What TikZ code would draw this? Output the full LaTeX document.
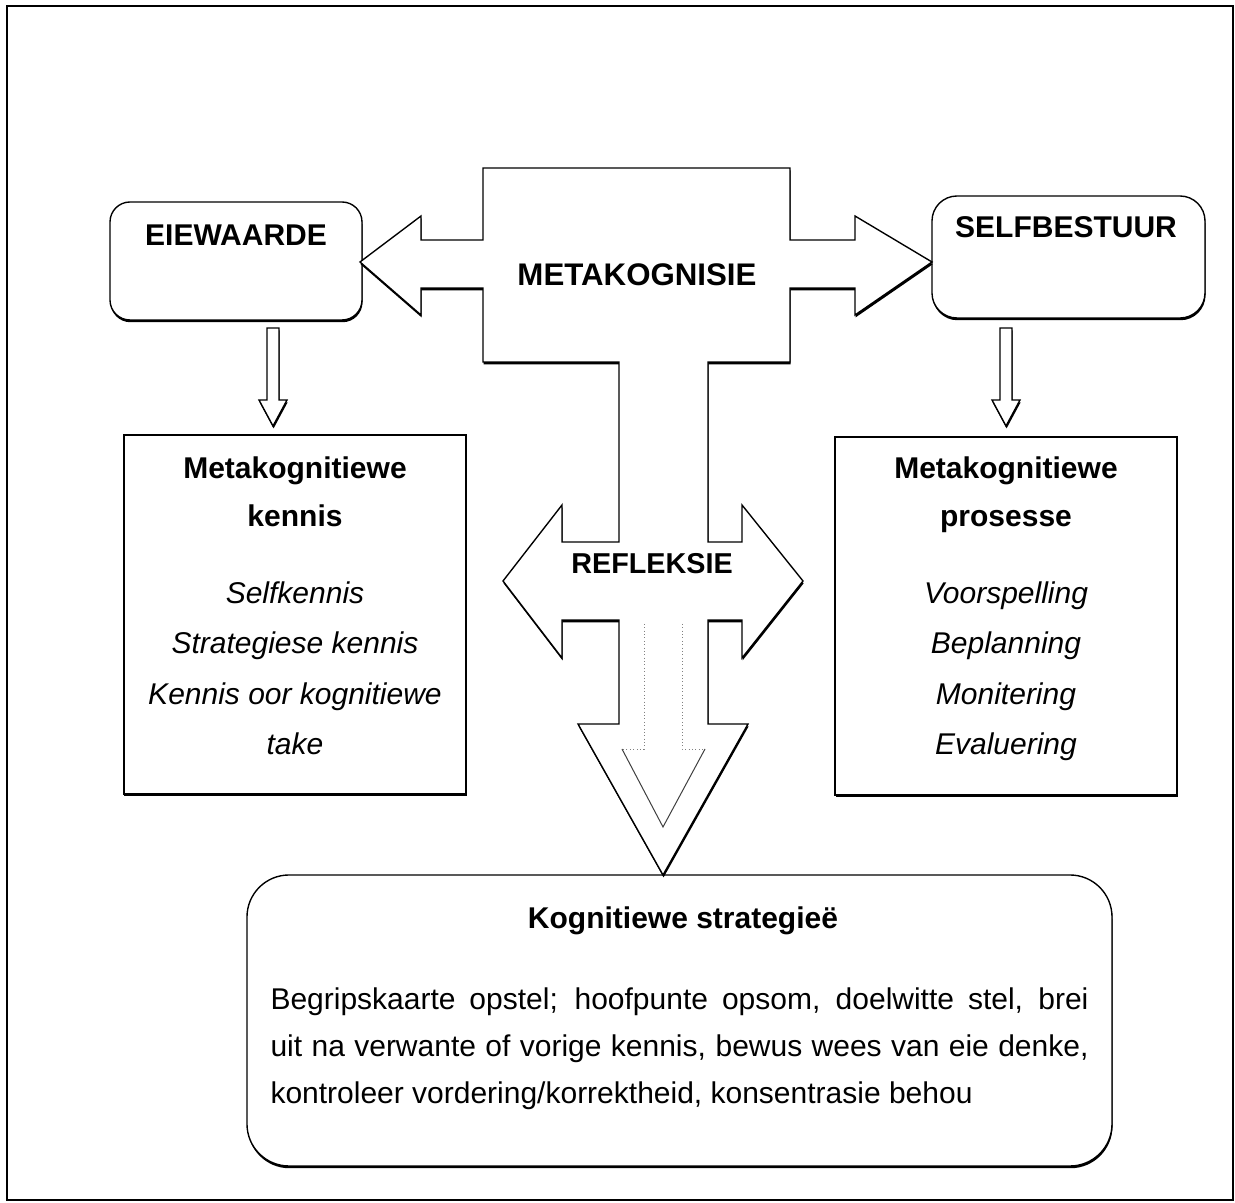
\documentclass[tikz,border=0pt]{standalone}
\usepackage{fontspec}
\setmainfont{Liberation Sans}
\usetikzlibrary{shadows}

% Outline of the joined block arrows: METAKOGNISIE (left/right), REFLEKSIE and the arrow down
\newcommand{\blockarrows}[1]{%
  \path[#1] (483,168) -- (790,168) -- (790,240) -- (855,240) -- (855,216) -- (932,262)
    -- (855,315) -- (855,288) -- (790,288) -- (790,362) -- (708,362) -- (708,542)
    -- (742,542) -- (742,505) -- (803,581) -- (742,658) -- (742,620) -- (708,620)
    -- (708,724) -- (748,724) -- (663,875) -- (578,724) -- (619,724) -- (619,620)
    -- (562,620) -- (562,658) -- (503,581) -- (562,505) -- (562,542) -- (619,542)
    -- (619,362) -- (483,362) -- (483,288) -- (421,288) -- (421,315) -- (360,262)
    -- (421,216) -- (421,240) -- (483,240) -- cycle;}

% Small hollow arrow pointing down, centred on x = #2
\newcommand{\smalldown}[2]{%
  \path[#1] (#2-6,328) -- (#2+6,328) -- (#2+6,400) -- (#2+14,400) -- (#2,426)
    -- (#2-14,400) -- (#2-6,400) -- cycle;}

\begin{document}
\begin{tikzpicture}[x=0.4pt, y=-0.4pt,
  shadowed/.style={drop shadow={shadow xshift=0.2pt, shadow yshift=-0.9pt, opacity=1, fill=black}},
  roundbox/.style={draw=black, line width=0.55pt, fill=white, rounded corners=8pt,
    inner sep=0pt, shadowed},
  squarebox/.style={draw=black, line width=0.55pt, fill=white, inner sep=0pt, shadowed},
  bigtxt/.style={font=\bfseries\fontsize{12}{14}\selectfont, inner sep=0pt, anchor=base},
  headtxt/.style={font=\bfseries\fontsize{12}{14}\selectfont, inner sep=0pt, anchor=base},
  itemtxt/.style={font=\itshape\fontsize{12}{14}\selectfont, inner sep=0pt, anchor=base},
  bodytxt/.style={font=\fontsize{12}{14}\selectfont, inner sep=0pt, anchor=base west},
  outline/.style={fill=white, draw=black, line width=0.55pt, line join=miter},
  shadowfill/.style={fill=black, shift={(0.6,2.4)}},
]
\useasboundingbox (0,0) rectangle (1235,1203);
\fill[white] (0,0) rectangle (1235,1203);

% frame
\draw[line width=1pt] (7,6) rectangle (1233,1200);

% boxes
\node[roundbox, minimum width=100.8pt, minimum height=47.2pt] (eie) at (236,261) {};
\node[roundbox, minimum width=109.2pt, minimum height=48.8pt, rounded corners=10pt] (self) at (1068.5,257) {};
\node[squarebox, minimum width=136.8pt, minimum height=143.6pt] (kennis) at (295,614.5) {};
\node[squarebox, minimum width=136.8pt, minimum height=143.2pt] (prosesse) at (1006,616) {};
\node[roundbox, minimum width=346pt, minimum height=116.4pt, rounded corners=16.8pt] (kog) at (679.5,1020.5) {};

% small arrows from the top boxes to the boxes below
\smalldown{shadowfill}{273}
\smalldown{outline}{273}
\smalldown{shadowfill}{1006}
\smalldown{outline}{1006}

% joined block arrows
\blockarrows{shadowfill}
\blockarrows{outline}

% faint inner arrow inside the arrow down
\draw[gray, line width=0.35pt, densely dotted] (644,624) -- (644,749) -- (622,749);
\draw[gray, line width=0.35pt, densely dotted] (682,624) -- (682,749) -- (705,749);
\draw[black!75, line width=0.4pt] (622,749) -- (663,827) -- (705,749);

% labels
\node[bigtxt] (eiet) at (236,246) {EIEWAARDE};
\node[bigtxt] (selft) at (1066,238) {SELFBESTUUR};
\node[bigtxt, font=\bfseries\fontsize{12.5}{15}\selectfont] (metat) at (637,286) {METAKOGNISIE};
\node[bigtxt, font=\bfseries\fontsize{11.5}{14}\selectfont] (reflt) at (652,574) {REFLEKSIE};

\node[headtxt] (k1) at (295,479) {Metakognitiewe};
\node[headtxt] (k2) at (295,527) {kennis};
\node[itemtxt] (k3) at (295,604) {Selfkennis};
\node[itemtxt] (k4) at (295,654) {Strategiese kennis};
\node[itemtxt] (k5) at (295,705) {Kennis oor kognitiewe};
\node[itemtxt] (k6) at (295,755) {take};

\node[headtxt] (p1) at (1006,479) {Metakognitiewe};
\node[headtxt] (p2) at (1006,527) {prosesse};
\node[itemtxt] (p3) at (1006,604) {Voorspelling};
\node[itemtxt] (p4) at (1006,654) {Beplanning};
\node[itemtxt] (p5) at (1006,705) {Monitering};
\node[itemtxt] (p6) at (1006,755) {Evaluering};

\node[headtxt] (kt) at (683,929) {Kognitiewe strategieë};
\node[bodytxt] (l1) at (270,1010) {\makebox[327.2pt][s]{Begripskaarte opstel; hoofpunte opsom, doelwitte stel, brei}};
\node[bodytxt] (l2) at (270,1057) {\makebox[327.2pt][s]{uit na verwante of vorige kennis, bewus wees van eie denke,}};
\node[bodytxt] (l3) at (270,1104) {kontroleer vordering/korrektheid, konsentrasie behou};
\end{tikzpicture}
\end{document}
